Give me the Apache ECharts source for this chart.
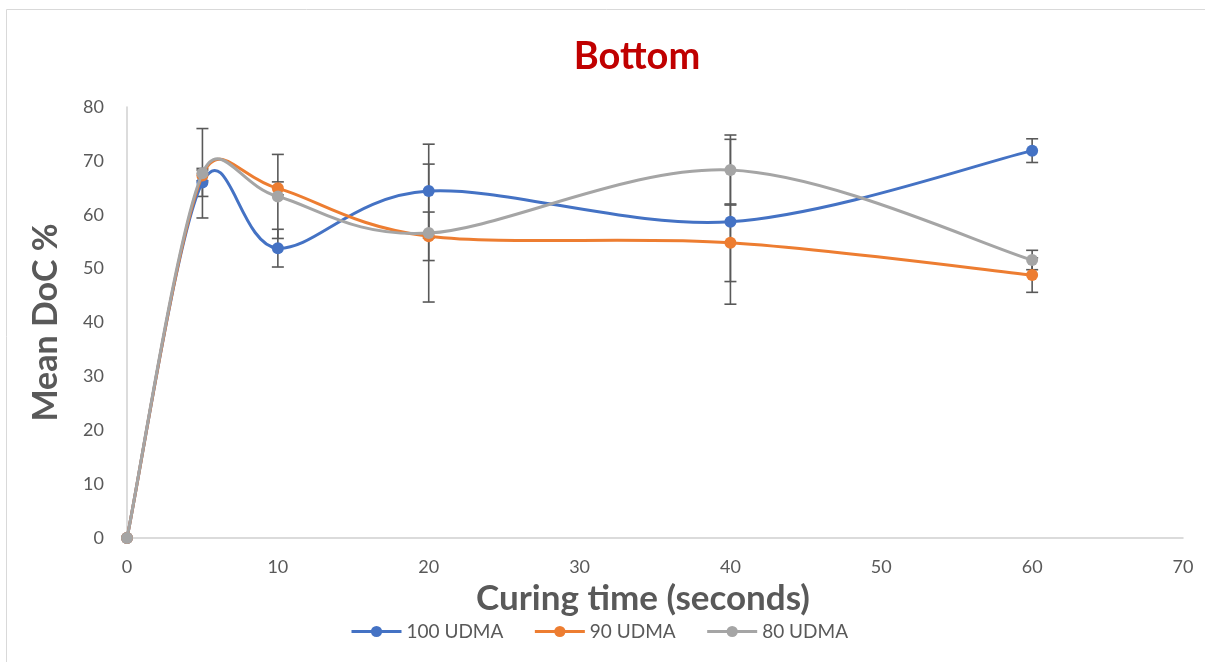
<!DOCTYPE html>
<html>
<head>
<meta charset="utf-8">
<script src="https://cdn.jsdelivr.net/npm/echarts@6/dist/echarts.min.js"></script>
<style>
  html, body { margin: 0; padding: 0; background: #fff; }
  #chart { width: 1205px; height: 662px; }
</style>
</head>
<body>
<div id="chart"></div>
<script>
// Curing time (seconds) at which each mean degree of conversion was measured
const curingTimes = [0, 5, 10, 20, 40, 60];

// Mean DoC % per formulation
const udma100 = [0, 66.0, 53.8, 64.4, 58.7, 71.9];
const udma90 = [0, 67.3, 64.9, 56.0, 54.8, 48.8];
const udma80 = [0, 67.7, 63.4, 56.6, 68.3, 51.6];

// Standard deviation (± error bar half-height) per formulation
const sd100 = [0, 2.6, 3.5, 8.7, 15.3, 2.2];
const sd90 = [0, 1.0, 1.2, 4.5, 7.2, 3.2];
const sd80 = [0, 8.3, 7.8, 12.8, 6.5, 1.8];

const seriesNames = ['100 UDMA', '90 UDMA', '80 UDMA'];
const seriesColors = ['#4472c4', '#ed7d31', '#a5a5a5'];
const xTicks = { min: 0, max: 70, interval: 10 };
const yTicks = { min: 0, max: 80, interval: 10 };

const means = [udma100, udma90, udma80];
const sds = [sd100, sd90, sd80];

const textColor = '#595959';
const fontFamily = 'Lato, "Open Sans", sans-serif';

function pairs(values) {
  return curingTimes.map((t, i) => [t, values[i]]);
}

function errorData(values, sd) {
  return curingTimes.map((t, i) => [t, values[i] - sd[i], values[i] + sd[i]]);
}

// Vertical ± bar with short caps at both ends
function renderErrorBar(params, api) {
  const x = api.value(0);
  const low = api.coord([x, api.value(1)]);
  const high = api.coord([x, api.value(2)]);
  if (Math.abs(high[1] - low[1]) < 0.5) return null;
  const half = 6;
  const style = { stroke: '#595959', lineWidth: 1.6 };
  return {
    type: 'group',
    children: [
      { type: 'line', shape: { x1: high[0], y1: high[1], x2: low[0], y2: low[1] }, style },
      { type: 'line', shape: { x1: high[0] - half, y1: high[1], x2: high[0] + half, y2: high[1] }, style },
      { type: 'line', shape: { x1: low[0] - half, y1: low[1], x2: low[0] + half, y2: low[1] }, style }
    ]
  };
}

// Control vector (next - prev) / 6, shortened so it never exceeds a share of its own segment
function controlVector(prev, next, segLen) {
  let dx = (next[0] - prev[0]) / 6;
  let dy = (next[1] - prev[1]) / 6;
  const len = Math.hypot(dx, dy);
  const limit = 0.55 * segLen;
  if (len > limit && len > 0) {
    dx *= limit / len;
    dy *= limit / len;
  }
  return [dx, dy];
}

// Smoothed segment from point i to point i+1
function makeCurveRenderer(values, color) {
  return function (params, api) {
    const i = params.dataIndex;
    const n = values.length;
    if (i >= n - 1) return null;
    const pt = (k) => api.coord([curingTimes[k], values[k]]);
    const p0 = pt(Math.max(i - 1, 0));
    const p1 = pt(i);
    const p2 = pt(i + 1);
    const p3 = pt(Math.min(i + 2, n - 1));
    const seg = Math.hypot(p2[0] - p1[0], p2[1] - p1[1]);
    const c1 = controlVector(p0, p2, seg);
    const c2 = controlVector(p1, p3, seg);
    return {
      type: 'bezierCurve',
      shape: {
        x1: p1[0], y1: p1[1],
        x2: p2[0], y2: p2[1],
        cpx1: p1[0] + c1[0],
        cpy1: p1[1] + c1[1],
        cpx2: p2[0] - c2[0],
        cpy2: p2[1] - c2[1]
      },
      style: { stroke: color, lineWidth: 3, fill: null, lineCap: 'round' }
    };
  };
}

const series = [];
means.forEach((vals, k) => {
  series.push({
    name: seriesNames[k] + ' SD',
    type: 'custom',
    renderItem: renderErrorBar,
    data: errorData(vals, sds[k]),
    encode: { x: 0, y: [1, 2] },
    z: 1,
    silent: true
  });
});
means.forEach((vals, k) => {
  series.push({
    name: seriesNames[k] + ' curve',
    type: 'custom',
    renderItem: makeCurveRenderer(vals, seriesColors[k]),
    data: pairs(vals),
    encode: { x: 0, y: 1 },
    z: 2 + 2 * k,
    silent: true
  });
  series.push({
    name: seriesNames[k],
    type: 'line',
    data: pairs(vals),
    symbol: 'circle',
    symbolSize: 12,
    showSymbol: true,
    lineStyle: { width: 3, color: seriesColors[k], opacity: 0 },
    itemStyle: { color: seriesColors[k] },
    z: 3 + 2 * k
  });
});

const chart = echarts.init(document.getElementById('chart'));
chart.setOption({
  animation: false,
  color: seriesColors,
  title: {
    text: 'Bottom',
    left: 632,
    top: 33,
    textAlign: 'center',
    textStyle: { color: '#c00000', fontSize: 38, fontWeight: 'bold', fontFamily }
  },
  legend: {
    data: seriesNames.map((name, k) => ({
      name,
      lineStyle: { color: seriesColors[k], width: 3, opacity: 1 }
    })),
    left: 345,
    top: 617,
    itemWidth: 50,
    itemHeight: 14,
    itemGap: 30,
    textStyle: { color: textColor, fontSize: 19, fontFamily }
  },
  grid: { left: 127, right: 22, top: 107, bottom: 124, containLabel: false },
  xAxis: {
    type: 'value',
    min: xTicks.min,
    max: xTicks.max,
    interval: xTicks.interval,
    name: 'Curing time (seconds)',
    nameLocation: 'middle',
    nameGap: 41,
    nameTextStyle: { color: textColor, fontSize: 35, fontWeight: 'bold', fontFamily, padding: [0, 24, 0, 0] },
    axisLine: { show: true, lineStyle: { color: '#d0d0d0', width: 1.5 } },
    axisTick: { show: false },
    splitLine: { show: false },
    axisLabel: { color: textColor, fontSize: 18, margin: 20, fontFamily }
  },
  yAxis: {
    type: 'value',
    min: yTicks.min,
    max: yTicks.max,
    interval: yTicks.interval,
    name: 'Mean DoC %',
    nameLocation: 'middle',
    nameGap: 64,
    nameTextStyle: { color: textColor, fontSize: 34, fontWeight: 'bold', fontFamily },
    axisLine: { show: true, lineStyle: { color: '#d0d0d0', width: 1.5 } },
    axisTick: { show: false },
    splitLine: { show: false },
    axisLabel: { color: textColor, fontSize: 18, margin: 23, fontFamily }
  },
  graphic: [{
    type: 'rect',
    silent: true,
    shape: { x: 6.5, y: 9.5, width: 1210, height: 670 },
    style: { fill: 'none', stroke: '#d9d9d9', lineWidth: 1 },
    z: -1
  }],
  series
});
</script>
</body>
</html>
